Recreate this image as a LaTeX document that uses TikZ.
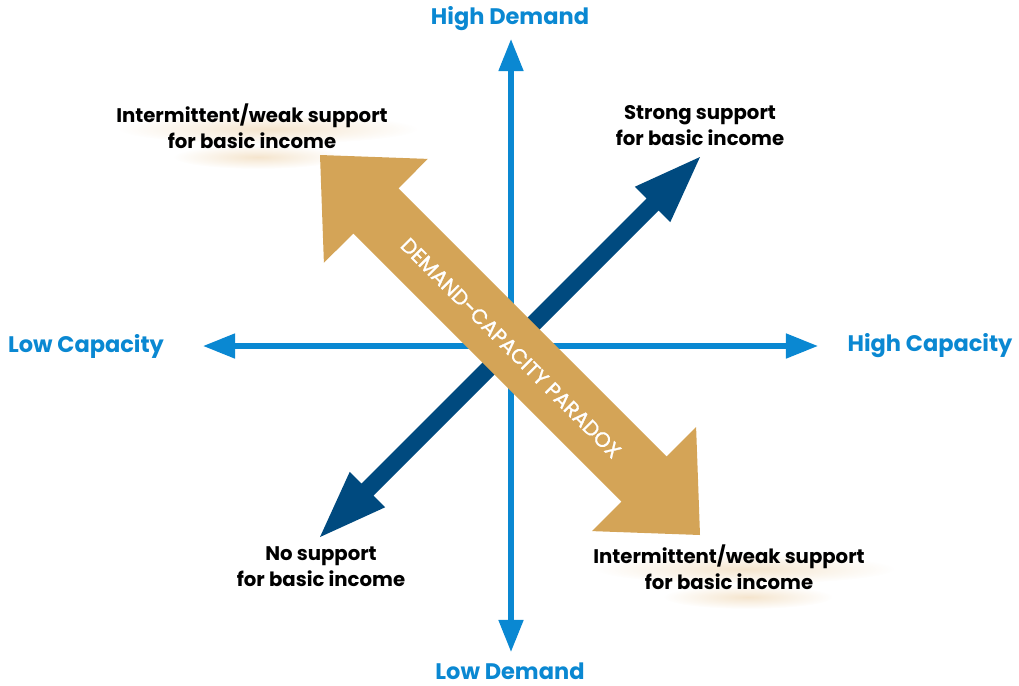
\documentclass[tikz,border=0pt]{standalone}
\usepackage{fontspec}
\setmainfont{Poppins}
\newfontfamily\paradoxfont{Poppins}[FakeBold=1.3]
\usetikzlibrary{arrows.meta, positioning}

\definecolor{axisblue}{HTML}{0A88D2}
\definecolor{navy}{HTML}{004A7F}
\definecolor{gold}{HTML}{D4A457}
\definecolor{glow}{HTML}{EBCB9C}

\tikzset{
  axis/.style={draw=axisblue, line width=3.7pt,
    -{Triangle[length=22.8pt, width=17pt]}},
  axislabel/.style={text=axisblue, font=\bfseries\fontsize{16}{18}\selectfont, inner sep=0pt},
  quadlabel/.style={align=center, font=\bfseries\fontsize{14}{18.5}\selectfont, inner sep=0pt},
  support/.style={fill=navy},
  paradox/.style={fill=gold},
  glowspot/.style={inner color=glow, outer color=white, opacity=0.5}
}

\begin{document}
\begin{tikzpicture}[x=0.025cm, y=-0.025cm]

    \useasboundingbox (0,0) rectangle (1019,685);

    % soft glow behind the two "intermittent" labels
    \shade[glowspot] (268,129) ellipse (150 and 15);
    \shade[glowspot] (258,157) ellipse (85 and 12);
    \shade[glowspot] (745,569) ellipse (150 and 15);
    \shade[glowspot] (748,597) ellipse (85 and 12);

    % axis labels
    \node[axislabel] (highdem) at (510,19) {High Demand};
    \node[axislabel] (lowdem) at (510,671) {Low Demand};
    \node[axislabel] (lowcap) at (86,346) {Low Capacity};
    \node[axislabel] (highcap) at (930,346) {High Capacity};

    % quadrant labels
    \node[quadlabel] (weaktop) at (252,126) {Intermittent/weak support\\for basic income};
    \node[quadlabel] (strong) at (700,126) {Strong support\\for basic income};
    \node[quadlabel] (nosupp) at (321,567) {No support\\for basic income};
    \node[quadlabel] (weakbot) at (729,567) {Intermittent/weak support\\for basic income};

    % axes
    \coordinate (origin) at (511,346);
    \coordinate (ytop) at (511,39);
    \coordinate (ybot) at (511,652);
    \coordinate (xleft) at (203,346);
    \coordinate (xright) at (818,346);
    \draw[axis] (origin) -- (ytop);
    \draw[axis] (origin) -- (ybot);
    \draw[axis] (origin) -- (xleft);
    \draw[axis] (origin) -- (xright);

    % support arrow (low/low to high/high)
    \coordinate (sw) at (320,537);
    \coordinate (ne) at (700,157);
    \fill[support] (sw) -- (349.7,471.9) -- (361.4,483.6) -- (646.6,198.4)
        -- (634.9,186.7) -- (ne) -- (670.3,222.1) -- (658.6,210.4)
        -- (373.4,495.6) -- (385.1,507.3) -- cycle;

    % paradox arrow
    \coordinate (nw) at (320,155);
    \coordinate (se) at (700,535);
    \fill[paradox] (nw) -- (427.8,158.9) -- (398.5,188.3) -- (666.7,456.5)
        -- (696.1,427.1) -- (se) -- (592.1,531.1) -- (621.5,501.7)
        -- (353.3,233.5) -- (323.9,262.8) -- cycle;

    \node[rotate=-45, text=white, font=\paradoxfont\fontsize{14.8}{16}\selectfont] (paradoxtxt) at (511,348) {DEMAND-CAPACITY PARADOX};

\end{tikzpicture}
\end{document}
